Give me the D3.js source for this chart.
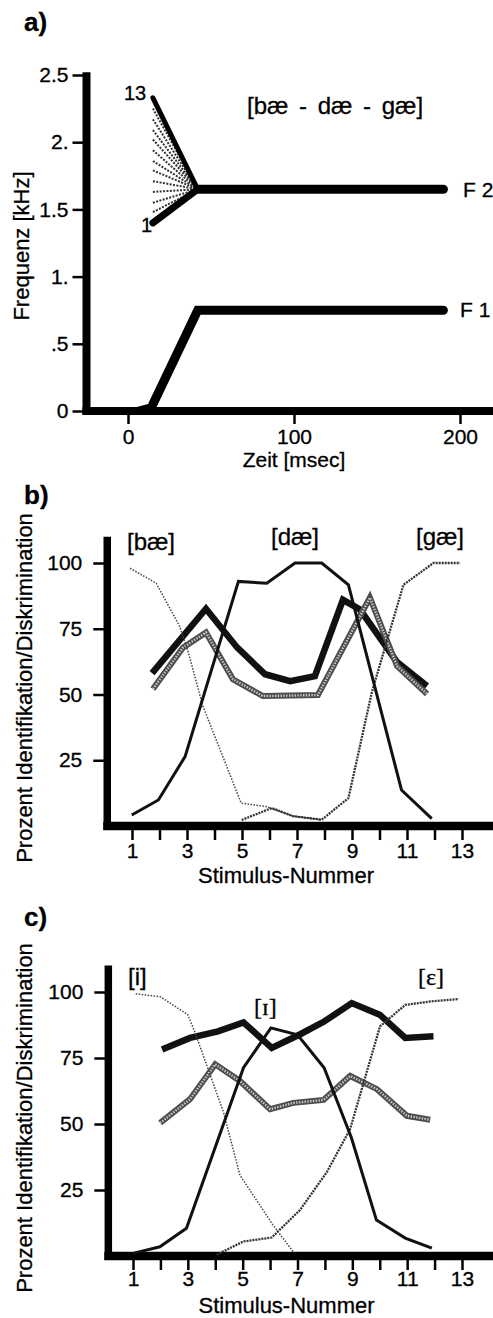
<!DOCTYPE html>
<html>
<head>
<meta charset="utf-8">
<script src="https://cdn.jsdelivr.net/npm/d3@7"></script>
<style>
  body { margin: 0; background: #fff; }
  svg { display: block; }
  text { stroke: #000; stroke-width: 0.3px; }
</style>
</head>
<body>
<div id="chart"></div>
<script>
// ---- panel a: F1 / F2 of the [bae - dae - gae] continuum
const timeTicks = [0, 100, 200];
const freqTicks = [0, 0.5, 1, 1.5, 2, 2.5];
const freqTickLabels = ["0", ".5", "1.", "1.5", "2.", "2.5"];
const f2Times = [15, 42, 190];          // onset, end of transition, end
const f2Steady = 1.65;
const f2Onsets = [1.40, 1.48, 1.55, 1.63, 1.71, 1.79, 1.86, 1.94, 2.02, 2.09, 2.17, 2.25, 2.33]; // stimulus 1..13
const f1Times = [0, 15, 42, 190];
const f1Freqs = [0, 0.05, 0.75, 0.75];

// ---- panels b / c: identification + discrimination
const stimTicks = [1, 2, 3, 4, 5, 6, 7, 8, 9, 10, 11, 12, 13];
const stimTickLabels = ["1", "", "3", "", "5", "", "7", "", "9", "", "11", "", "13"];
const pctTicks = [25, 50, 75, 100];

// b) [bae] [dae] [gae]
const bBaeX = [0.93, 1.88, 2.73, 3.05, 3.57, 4.97, 5.88, 6.84, 7.88];
const bBaeY = [98, 92.3, 76, 66, 45.8, 8.7, 7.4, 3.8, 2.4];
const bDaeX = [0.99, 1.96, 2.93, 4.87, 5.9, 6.93, 7.9, 8.87, 10.8, 11.9];
const bDaeY = [4.2, 9.9, 26.4, 93, 92.3, 100, 100, 91.7, 13.7, 2.8];
const bGaeX = [4.99, 6.08, 6.87, 7.9, 8.87, 9.72, 10.87, 11.96, 12.93];
const bGaeY = [2.3, 6.8, 3.7, 2.4, 10.6, 50.8, 91.7, 100, 100];
const bObtX = [1.73, 3.69, 4.82, 5.84, 6.75, 7.65, 8.67, 9.29, 10.64, 11.73];
const bObtY = [58.1, 82.6, 67.9, 57.7, 55.1, 57.0, 86.0, 82.3, 62.3, 53.2];
const bPredX = [1.76, 2.85, 3.69, 4.67, 5.76, 7.76, 9.65, 10.64, 11.73];
const bPredY = [52.1, 67.8, 73.6, 55.8, 49.4, 49.8, 86.8, 60.8, 50.2];

// c) [i] [I] [E]
const cIX = [1.1, 2.0, 3.0, 3.25, 4.3, 4.9, 6.1, 6.85];
const cIY = [99.3, 98.2, 91.4, 85, 54.5, 30.6, 11.8, 1.5];
const cLaxIX = [1.0, 1.98, 2.95, 5.03, 6.03, 7.0, 7.97, 8.96, 9.88, 10.93, 11.9];
const cLaxIY = [1, 3.5, 10.5, 71.3, 86.4, 83.8, 71.3, 45, 13.6, 6.8, 3];
const cEX = [4.05, 5.03, 6.06, 7.09, 8.07, 8.92, 10.01, 10.93, 11.84, 12.88];
const cEY = [0.5, 5.5, 7, 17.4, 31.8, 48.1, 87, 95.1, 96.4, 97.3];
const cObtX = [2.06, 3.08, 4.1, 5.03, 6.06, 7.1, 7.97, 8.98, 10.0, 10.93, 11.96];
const cObtY = [78.2, 82.6, 85.1, 88.5, 78.8, 84, 88.8, 95.8, 91.4, 82.6, 83.2];
const cPredX = [1.99, 3.08, 4.0, 4.9, 6.0, 6.85, 7.95, 8.92, 9.9, 10.99, 11.84];
const cPredY = [50.4, 59.4, 72.6, 66.3, 55.6, 58, 59.1, 68.2, 63.2, 53.1, 51.6];

const W = 493, H = 1318;
const font = '"Liberation Sans", Arial, Helvetica, sans-serif';
const serif = '"Liberation Serif", "DejaVu Serif", serif';

const svg = d3.select('#chart').append('svg')
    .attr('width', W)
    .attr('height', H);

function styleAxis(g) {
  g.select('.domain').remove();
  g.attr('font-size', null).attr('font-family', null);
  g.selectAll('.tick line').attr('stroke', '#000').attr('stroke-width', 2.5);
  g.selectAll('.tick text').attr('font-size', 21).attr('font-family', font).attr('fill', '#000');
}

function addText(g, x, y, str, opts = {}) {
  return g.append('text')
    .attr('x', x).attr('y', y)
    .attr('font-family', opts.family || font)
    .attr('font-size', opts.size || 20)
    .attr('font-weight', opts.weight || 'normal')
    .attr('text-anchor', opts.anchor || 'start')
    .attr('fill', '#000')
    .text(str);
}

function yTitle(g, x, y, str) {
  g.append('text')
    .attr('transform', `translate(${x},${y}) rotate(-90)`)
    .attr('text-anchor', 'middle')
    .attr('font-family', font)
    .attr('font-size', 22)
    .attr('fill', '#000')
    .text(str);
}

// ================= panel a =================
const xa = d3.scaleLinear().domain([0, 200]).range([128, 460]);
const ya = d3.scaleLinear().domain([0, 2.5]).range([411, 75]);
const ga = svg.append('g');
const aAxisX = xa(-25);

ga.append('g')
  .attr('transform', `translate(${aAxisX},0)`)
  .call(d3.axisLeft(ya).tickValues(freqTicks).tickFormat((d, i) => freqTickLabels[i]).tickSize(14).tickPadding(4))
  .call(styleAxis);
ga.append('g')
  .attr('transform', `translate(0,${ya(0)})`)
  .call(d3.axisBottom(xa).tickValues(timeTicks).tickSize(13).tickPadding(5))
  .call(styleAxis);

ga.append('line')
  .attr('x1', aAxisX).attr('x2', aAxisX)
  .attr('y1', ya(2.52)).attr('y2', ya(0) + 4)
  .attr('stroke', '#000').attr('stroke-width', 8);
ga.append('line')
  .attr('x1', aAxisX - 4).attr('x2', W)
  .attr('y1', ya(0)).attr('y2', ya(0))
  .attr('stroke', '#000').attr('stroke-width', 8);

const lineA = d3.line().x(d => xa(d[0])).y(d => ya(d[1]));

// F2 fan: dotted intermediate stimuli first, then the two end stimuli
const fan = f2Onsets.map((f, i) => ({i: i, pts: [[f2Times[0], f], [f2Times[1], f2Steady]]}));
ga.selectAll('.fan-thin')
  .data(fan.filter(d => d.i !== 0 && d.i !== f2Onsets.length - 1))
  .enter().append('path')
    .attr('d', d => lineA(d.pts))
    .attr('fill', 'none')
    .attr('stroke', '#333')
    .attr('stroke-width', 2)
    .attr('stroke-dasharray', '2 1.4');
ga.selectAll('.fan-thick')
  .data(fan.filter(d => d.i === 0 || d.i === f2Onsets.length - 1))
  .enter().append('path')
    .attr('d', d => lineA(d.pts))
    .attr('fill', 'none')
    .attr('stroke', '#000')
    .attr('stroke-width', d => d.i === 0 ? 7 : 5)
    .attr('stroke-linecap', 'round');

ga.append('path')
  .attr('d', lineA([[f2Times[1], f2Steady], [f2Times[2], f2Steady]]))
  .attr('fill', 'none').attr('stroke', '#000')
  .attr('stroke-width', 9).attr('stroke-linecap', 'round');

const f1 = d3.zip(f1Times, f1Freqs);
ga.append('path')
  .attr('d', lineA(f1.slice(0, 2)))
  .attr('fill', 'none').attr('stroke', '#000').attr('stroke-width', 3);
ga.append('path')
  .attr('d', lineA(f1.slice(1)))
  .attr('fill', 'none').attr('stroke', '#000')
  .attr('stroke-width', 9).attr('stroke-linecap', 'round').attr('stroke-linejoin', 'miter');

addText(ga, 24, 31, 'a)', {size: 26, weight: 'bold'});
addText(ga, 124, 100, '13', {size: 20});
addText(ga, 141, 232, '1', {size: 20});
addText(ga, 247, 114, '[bæ - dæ - gæ]', {size: 24}).attr('word-spacing', 4);
addText(ga, 463, 197, 'F 2', {size: 21});
addText(ga, 460, 317, 'F 1', {size: 21});
addText(ga, xa(100), 467, 'Zeit [msec]', {size: 21, anchor: 'middle'});
yTitle(ga, 29, 246, 'Frequenz [kHz]');

// ================= panels b / c =================
const styles = {
  identThin:  {stroke: '#444', width: 1.5, dash: '1.5 1.5'},
  identSolid: {stroke: '#111', width: 3},
  identDot:   {stroke: '#333', width: 2.3, dash: '2 1'},
  obtained:   {stroke: '#111', width: 6.5}
};

function drawPanel(p) {
  const g = svg.append('g');
  const x = d3.scaleLinear().domain([1, 13]).range(p.xRange);
  const y = d3.scaleLinear().domain([0, 100]).range(p.yRange);
  const axisX = x(0.1);

  g.append('g')
    .attr('transform', `translate(${axisX},0)`)
    .call(d3.axisLeft(y).tickValues(pctTicks).tickSize(14).tickPadding(11))
    .call(styleAxis);
  g.append('g')
    .attr('transform', `translate(0,${y(0)})`)
    .call(d3.axisBottom(x).tickValues(stimTicks).tickFormat((d, i) => stimTickLabels[i]).tickSize(14).tickPadding(p.tickPad))
    .call(styleAxis);

  g.append('line')
    .attr('x1', axisX).attr('x2', axisX)
    .attr('y1', y(110)).attr('y2', y(0) + 4)
    .attr('stroke', '#000').attr('stroke-width', 7.5);
  g.append('line')
    .attr('x1', axisX - 4).attr('x2', W)
    .attr('y1', y(0)).attr('y2', y(0))
    .attr('stroke', '#000').attr('stroke-width', 8.5);

  const line = d3.line().x(d => x(d[0])).y(d => y(d[1]));

  // obtained discrimination (thick black)
  g.append('path')
    .attr('d', line(d3.zip(p.obt[0], p.obt[1])))
    .attr('fill', 'none').attr('stroke', styles.obtained.stroke)
    .attr('stroke-width', styles.obtained.width).attr('stroke-linejoin', 'miter');

  // predicted discrimination (halftone grey)
  const pred = line(d3.zip(p.pred[0], p.pred[1]));
  g.append('path').attr('d', pred)
    .attr('fill', 'none').attr('stroke', '#4d4d4d').attr('stroke-width', 6);
  g.append('path').attr('d', pred)
    .attr('fill', 'none').attr('stroke', '#c9c9c9').attr('stroke-width', 2.4)
    .attr('stroke-dasharray', '1.4 1.4');

  // identification curves
  p.ident.forEach(s => {
    const st = styles[s.style];
    g.append('path')
      .attr('d', line(d3.zip(s.x, s.y)))
      .attr('fill', 'none')
      .attr('stroke', st.stroke)
      .attr('stroke-width', st.width)
      .attr('stroke-dasharray', st.dash || null);
  });

  p.labels.forEach(l => addText(g, l.x, l.y, l.text, {size: 24, family: l.family}));
  addText(g, 24, p.tagY, p.tag, {size: 26, weight: 'bold'});
  addText(g, x(6.6), p.titleY, 'Stimulus-Nummer', {size: 22, anchor: 'middle'});
  yTitle(g, 32, p.yTitleY, 'Prozent Identifikation/Diskrimination');
}

drawPanel({
  xRange: [132, 462], yRange: [826, 563], tickPad: 3,
  obt: [bObtX, bObtY], pred: [bPredX, bPredY],
  ident: [
    {x: bBaeX, y: bBaeY, style: 'identThin'},
    {x: bGaeX, y: bGaeY, style: 'identDot'},
    {x: bDaeX, y: bDaeY, style: 'identSolid'}
  ],
  labels: [
    {x: 127, y: 550, text: '[bæ]'},
    {x: 271, y: 545, text: '[dæ]'},
    {x: 416, y: 545, text: '[gæ]'}
  ],
  tag: 'b)', tagY: 504, titleY: 883, yTitleY: 688
});

drawPanel({
  xRange: [133, 462], yRange: [1256, 992], tickPad: 1,
  obt: [cObtX, cObtY], pred: [cPredX, cPredY],
  ident: [
    {x: cIX, y: cIY, style: 'identThin'},
    {x: cEX, y: cEY, style: 'identDot'},
    {x: cLaxIX, y: cLaxIY, style: 'identSolid'}
  ],
  labels: [
    {x: 128, y: 985, text: '[i]'},
    {x: 254, y: 1015, text: '[ɪ]', family: serif},
    {x: 418, y: 985, text: '[ε]', family: serif}
  ],
  tag: 'c)', tagY: 926, titleY: 1313, yTitleY: 1118
});
</script>
</body>
</html>
